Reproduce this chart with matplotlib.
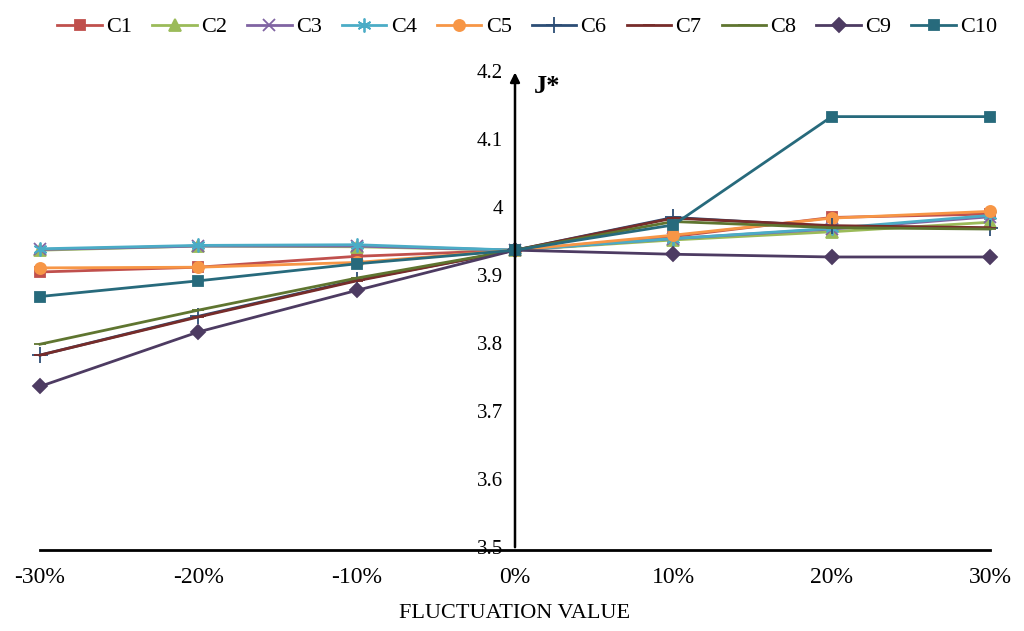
import numpy as np
import matplotlib.pyplot as plt

# fluctuation levels (%) and J* values
x = [-30, -20, -10, 0, 10, 20, 30]
xlabels = ['-30%', '-20%', '-10%', '0%', '10%', '20%', '30%']

c1 = [3.908, 3.915, 3.931, 3.940, 3.960, 3.988, 3.993]
c2 = [3.940, 3.946, 3.945, 3.940, 3.955, 3.967, 3.981]
c3 = [3.941, 3.946, 3.946, 3.940, 3.957, 3.971, 3.989]
c4 = [3.942, 3.947, 3.948, 3.940, 3.957, 3.972, 3.991]
c5 = [3.914, 3.915, 3.922, 3.940, 3.962, 3.987, 3.997]
c6 = [3.786, 3.843, 3.896, 3.940, 3.988, 3.975, 3.972]
c7 = [3.786, 3.842, 3.895, 3.940, 3.987, 3.976, 3.973]
c8 = [3.802, 3.852, 3.899, 3.940, 3.982, 3.973, 3.971]
c9 = [3.740, 3.820, 3.881, 3.940, 3.934, 3.930, 3.930]
c10 = [3.872, 3.895, 3.920, 3.940, 3.977, 4.136, 4.136]

series = [c1, c2, c3, c4, c5, c6, c7, c8, c9, c10]
names = ['C1', 'C2', 'C3', 'C4', 'C5', 'C6', 'C7', 'C8', 'C9', 'C10']
colors = ['#C0504D', '#9BBB59', '#8064A2', '#4BACC6', '#F79646',
          '#2C4D75', '#772C2A', '#5F7530', '#4D3B62', '#276A7C']
markers = ['s', '^', 'x', (6, 2, 0), 'o', '+', '_', '_', 'D', 's']
msizes = [7, 8, 9, 10, 8, 11, 8, 8, 7, 7]

plt.rcParams['font.family'] = ['Liberation Serif', 'DejaVu Serif']

fig = plt.figure(figsize=(10.24, 6.31), dpi=100)
ax = fig.add_axes([40/1024, 1 - 550/631, 950/1024, 477/631])

for s, n, c, m, ms in zip(series, names, colors, markers, msizes):
    ax.plot(x, s, color=c, marker=m, markersize=ms, lw=2, label=n,
            clip_on=False, markeredgewidth=1.3)

ax.set_xlim(-30, 30)
ax.set_ylim(3.5, 4.2)

for sp in ['top', 'right', 'left']:
    ax.spines[sp].set_visible(False)
ax.spines['bottom'].set_linewidth(2)

ax.annotate('', xy=(0, 4.205), xytext=(0, 3.5),
            arrowprops=dict(arrowstyle='-|>', lw=1.8, color='black',
                            mutation_scale=14), annotation_clip=False)

ax.set_xticks(x)
ax.set_xticklabels(xlabels, fontsize=17)
ax.tick_params(axis='x', length=0, pad=12)
ax.set_yticks([])
for v in [3.5, 3.6, 3.7, 3.8, 3.9, 4.0, 4.1, 4.2]:
    ax.text(-0.75, v, f'{v:g}', ha='right', va='center', fontsize=15)

ax.text(1.2, 4.18, 'J*', fontsize=19, fontweight='bold', va='center')
ax.set_xlabel('FLUCTUATION VALUE', fontsize=16, labelpad=12)

fig.legend(loc='upper center', bbox_to_anchor=(0.515, 1.005), ncol=10,
           frameon=False, fontsize=16, handlelength=2.0, columnspacing=0.9,
           handletextpad=0.2)

fig.savefig('out.png', dpi=100)
